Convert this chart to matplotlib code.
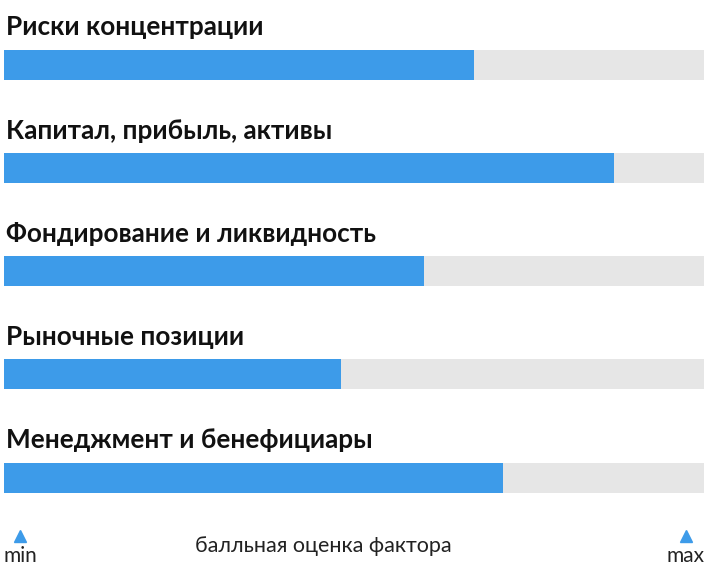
import matplotlib
matplotlib.use("Agg")
import matplotlib.pyplot as plt

categories = ["Риски концентрации", "Капитал, прибыль, активы", "Фондирование и ликвидность",
              "Рыночные позиции", "Менеджмент и бенефициары"]
values = [0.671, 0.871, 0.600, 0.481, 0.713]
axis_label = "балльная оценка фактора"
min_label, max_label = "min", "max"

plt.rcParams['font.family'] = ['Lato', 'DejaVu Sans']
fig = plt.figure(figsize=(7.06, 5.75), dpi=100)
ax = fig.add_axes([4/706, 0, 700/706, 1])
ax.set_xlim(0, 1)
ax.set_ylim(575, 0)
ax.axis('off')

bar_tops = [50, 153, 256, 359, 463]
title_y = [27, 131, 234, 337, 440]
for c, v, bt, ty in zip(categories, values, bar_tops, title_y):
    ax.barh(bt + 15, 1, height=30, left=0, color='#e6e6e6')
    ax.barh(bt + 15, v, height=30, left=0, color='#3d9be9')
    ax.text(0.003, ty, c, fontsize=18.8, fontweight='bold', color='#111111', va='center', ha='left')

ax.plot([16/700], [536], marker='^', color='#3d9be9', markersize=9, clip_on=False)
ax.plot([682/700], [536], marker='^', color='#3d9be9', markersize=9, clip_on=False)
ax.text(16/700, 556, min_label, fontsize=15, ha='center', va='center', color='#222222')
ax.text(682/700, 556, max_label, fontsize=15, ha='center', va='center', color='#222222')
ax.text(319/700, 546, axis_label, fontsize=15.5, ha='center', va='center', color='#222222')

fig.savefig("out.png", dpi=100)
